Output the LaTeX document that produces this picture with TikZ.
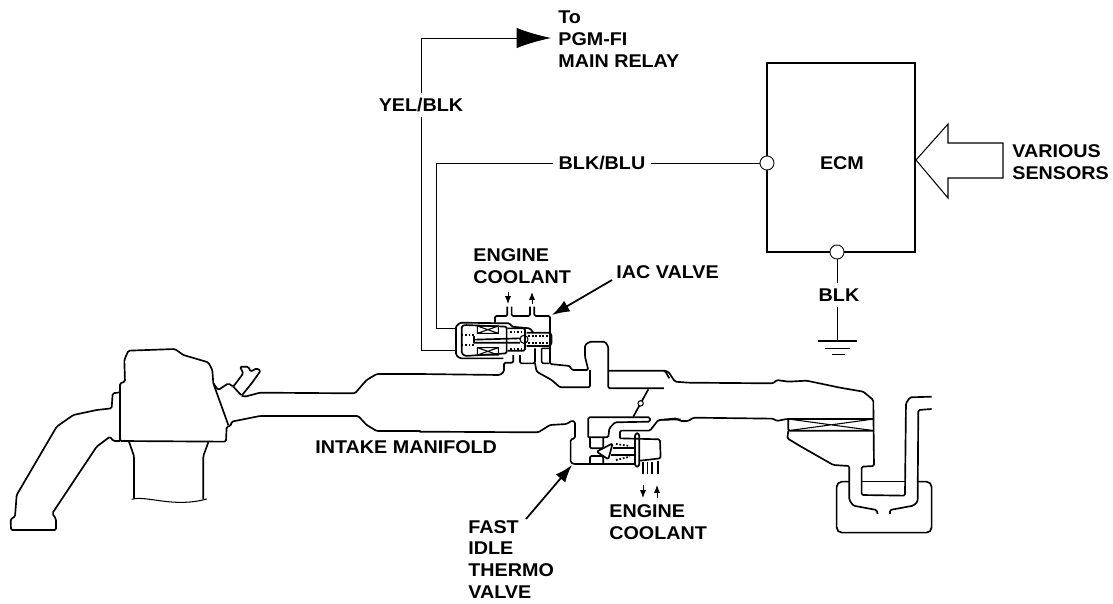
\documentclass[tikz,border=0pt]{standalone}
\usepackage{fontspec}
\setmainfont{Liberation Sans}[FakeStretch=1.07]
\usepackage{tikz}
\usetikzlibrary{arrows.meta,positioning}
\tikzset{
  lbl/.style={font=\bfseries\fontsize{10.5}{12.5}\selectfont,inner sep=0pt,align=left},
  wire/.style={line width=0.5pt},
  pipe/.style={line width=0.95pt,rounded corners=0.8pt,line join=round},
  fine/.style={line width=0.6pt},
  spring/.style={line width=1pt,densely dotted},
  pin/.style={circle,draw,fill=white,line width=0.5pt,minimum size=8pt,inner sep=0pt},
  flowarr/.style={line width=0.5pt,-{Latex[length=4.5pt,width=3.5pt]}},
  leadarr/.style={line width=1pt,-{Latex[length=10pt,width=7pt]}}
}
\begin{document}
\begin{tikzpicture}[x=0.02cm,y=-0.02cm]
\useasboundingbox (0,0) rectangle (1113,603);

% ECM and its wiring
\node[draw,line width=1.4pt,minimum width=148.5*0.02cm,minimum height=189*0.02cm,inner sep=0pt] (ecm) at (841,157.5) {};
\node[lbl] (ecmlbl) at (842,163) {ECM};
\node[pin] (ecmin) at (767,163) {};
\node[pin] (ecmgnd) at (837,252) {};
\node[lbl] (sensors) at (1012,162) [anchor=west] {VARIOUS\\SENSORS};
\draw[fine] (916,160) -- (948,124) -- (948,143) -- (1003,143) -- (1003,178) -- (948,178) -- (948,198) -- cycle;

\node[lbl,inner sep=3pt] (blk) at (839,295) {BLK};
\coordinate (gnd) at (837,341);
\draw[wire] (ecmgnd) -- (ecmgnd |- blk.north);
\draw[wire] (gnd |- blk.south) -- (gnd);
\draw[line width=1.3pt] (818,341) -- (857,341);
\draw[wire] (825,348) -- (850,348);
\draw[wire] (832,354) -- (845,354);

% wires to the valve
\node[lbl,inner sep=3pt] (blkblu) at (602,163) {BLK/BLU};
\node[lbl,inner sep=3pt] (yelblk) at (421,105) {YEL/BLK};
\node[lbl,anchor=west] (relay) at (558,39) {To\\PGM-FI\\MAIN RELAY};
\coordinate (yelturn) at (421,38);
\coordinate (blkturn) at (436,163);
\coordinate (relaytip) at (551,38);
\coordinate (valvetop) at (457,328);
\coordinate (valvebot) at (457,350);
\coordinate (iacstart) at (612,280);
\coordinate (iactip) at (552,315);
\coordinate (fitstart) at (526,519);
\coordinate (fittip) at (572,465);
\draw[wire] (ecmin) -- (blkblu);
\draw[wire] (blkblu) -- (blkturn) |- (valvetop);
\draw[wire] (yelblk) |- (valvebot);
\draw[wire,-{Latex[length=19.5pt,width=11.5pt]}] (yelblk) -- (yelturn) -- (relaytip);

% labels and arrows round the valves
\node[lbl,anchor=west] (iaccool) at (473,266.5) {ENGINE\\COOLANT};
\node[lbl,anchor=west] (iac) at (616,272) {IAC VALVE};
\node[lbl,anchor=west] (manifold) at (315,447) {INTAKE MANIFOLD};
\node[lbl,anchor=west] (fitv) at (468,559.5) {FAST\\IDLE\\THERMO\\VALVE};
\node[lbl,anchor=west] (fitcool) at (609,522.5) {ENGINE\\COOLANT};
\draw[leadarr] (iacstart) -- (iactip);
\draw[leadarr] (fitstart) -- (fittip);
\draw[flowarr] (508,292) -- (508,304);
\draw[flowarr] (532,304) -- (532,292);
\draw[flowarr] (643,485) -- (643,498);
\draw[flowarr] (657,498) -- (657,485);

% cylinder head end
\begin{scope}[shift={(0,330)},scale=0.3333]
\draw[pipe] (1262,132) -- (1130,132) -- (1100,150) -- (1065,190) -- (780,188) -- (735,200) -- (725,197);
\draw[pipe] (1262,303) -- (1130,303) -- (1100,285) -- (1075,258) -- (780,258) -- (695,275) -- (692,288) -- (680,290) -- (678,335) -- (360,333) -- (360,160) -- (375,155) -- (373,90) -- (385,62) -- (525,57) -- (550,75) -- (625,97) -- (637,120) -- (640,160) -- (685,285);
\draw[pipe] (640,160) -- (655,180) -- (685,160) -- (700,170) -- (730,130) -- (720,110) -- (745,110) -- (752,125) -- (770,115) -- (782,122) -- (755,160) -- (725,197) -- (700,170);
\draw[pipe] (360,187) -- (338,190) -- (335,235) -- (290,240) -- (220,255) -- (170,290) -- (50,495) -- (45,560) -- (32,567) -- (33,600) -- (168,600) -- (168,567) -- (157,550) -- (290,350) -- (330,320) -- (340,333) -- (360,333);
\draw[pipe] (387,335) -- (402,378) -- (402,505);
\draw[pipe] (625,337) -- (610,378) -- (610,507);
\draw[fine] (395,508) .. controls (440,495) and (520,535) .. (620,507);
\end{scope}

% IAC valve and throat
\begin{scope}[shift={(420,300)},scale=0.3333]
\draw[pipe] (108,80) -- (120,68) -- (270,70) -- (275,80) -- (330,85) -- (340,98);
\draw[pipe] (108,80) -- (108,165) -- (120,175) -- (250,175);
\draw[pipe] (125,78) -- (125,160) -- (135,168) -- (260,160) -- (260,80) -- (135,75) -- cycle;
\draw[fine] (172,78) rectangle (235,100) (172,78) -- (235,100) (172,100) -- (235,78);
\draw[fine] (172,143) rectangle (235,165) (172,143) -- (235,165) (172,165) -- (235,143);
\draw[pipe] (162,108) -- (162,130) (162,119) -- (300,115) (162,128) -- (300,128);
\draw[spring] (125,105) -- (165,105) (125,135) -- (165,135);
\draw[pipe] (262,85) -- (315,85) -- (315,152) -- (262,152);
\draw[line width=1.6pt] (315,92) -- (315,150);
\draw[spring] (270,95) -- (310,95) (270,147) -- (310,147);
\draw[fine] (312,118) circle (12);
\draw[pipe,rounded corners=2pt] (320,98) -- (395,98) -- (395,138) -- (320,138);
\draw[spring] (325,108) -- (385,108) (325,130) -- (385,130);
\draw[pipe] (225,68) -- (225,48) -- (262,48) -- (262,20);
\draw[pipe] (275,20) -- (275,48) -- (330,48) -- (330,20);
\draw[pipe] (343,20) -- (343,48) -- (390,48) -- (390,192) -- (450,198) -- (455,210) -- (505,210) -- (495,170) -- (495,135) -- (510,125) -- (555,125) -- (565,140) -- (565,265) -- (732,265);
\draw[pipe] (-2,222) -- (240,225) -- (252,215) -- (252,188) -- (280,188) -- (280,165);
\draw[pipe] (300,165) -- (300,190) -- (345,190) -- (345,145);
\draw[pipe] (345,190) -- (350,215) -- (395,240) -- (420,262) -- (510,262) -- (510,210);
\draw[pipe] (365,145) -- (388,145) (365,145) -- (365,190) -- (388,190);
\draw[pipe] (565,212) -- (735,212) -- (748,235);
% fast idle thermo valve
\draw[pipe] (685,268) -- (640,350);
\draw[fine,fill=white] (662,310) circle (8);
\draw[pipe] (505,412) -- (505,352) -- (690,352) -- (690,365) -- (585,367) -- (568,385) -- (565,412) -- (505,412);
\draw[pipe] (-2,395) -- (355,397) -- (390,375) -- (440,372) -- (455,362) -- (465,365) -- (465,415) -- (452,418) -- (452,487) -- (460,492) -- (645,492);
\draw[pipe] (510,412) -- (510,445) -- (550,445) -- (550,412);
\draw[pipe] (510,492) -- (510,468) -- (550,468) -- (550,492);
\draw[pipe] (530,455) -- (578,430) -- (565,478) -- cycle;
\draw[pipe] (578,445) -- (645,445) (572,465) -- (645,465);
\draw[spring] (588,432) -- (630,438) (588,480) -- (630,470);
\draw[pipe] (600,415) -- (600,392) -- (690,392) -- (715,360) -- (782,358);
\draw[pipe] (600,415) -- (720,418) -- (722,475) -- (660,482);
\draw[pipe,rounded corners=1.5pt] (645,400) rectangle (658,500);
\draw[pipe] (670,487) -- (670,522) (683,487) -- (683,522);
\draw[pipe] (697,487) -- (697,522) (715,482) -- (715,522);
\end{scope}

% air cleaner end
\begin{scope}[shift={(660,340)},scale=0.3333]
\draw[pipe] (12,92) -- (25,95) -- (45,125) -- (85,128) -- (340,130) -- (350,120) -- (385,125) -- (440,122) -- (540,143) -- (610,155) -- (640,180) -- (642,378) -- (605,380) -- (605,465) -- (735,467) -- (738,190) -- (750,172) -- (815,170);
\draw[pipe] (0,240) -- (50,235) -- (60,243) -- (85,243) -- (100,233) -- (340,236) -- (350,243) -- (380,237) -- (640,237);
\draw[pipe] (385,237) -- (385,272) -- (642,272);
\draw[fine] (385,237) -- (642,272) (385,272) -- (642,237);
\draw[pipe] (385,272) -- (382,295) -- (420,318) -- (520,375) -- (568,378) -- (568,480) -- (580,497) -- (650,510) -- (653,522);
\draw[pipe] (815,207) -- (775,210) -- (773,485) -- (760,497) -- (690,510) -- (690,522);
\draw[pipe,rounded corners=3pt] (568,425) -- (530,425) -- (530,578) -- (815,578) -- (815,425) -- (773,425);
\draw[pipe] (605,425) -- (735,425);
\end{scope}
\end{tikzpicture}
\end{document}
